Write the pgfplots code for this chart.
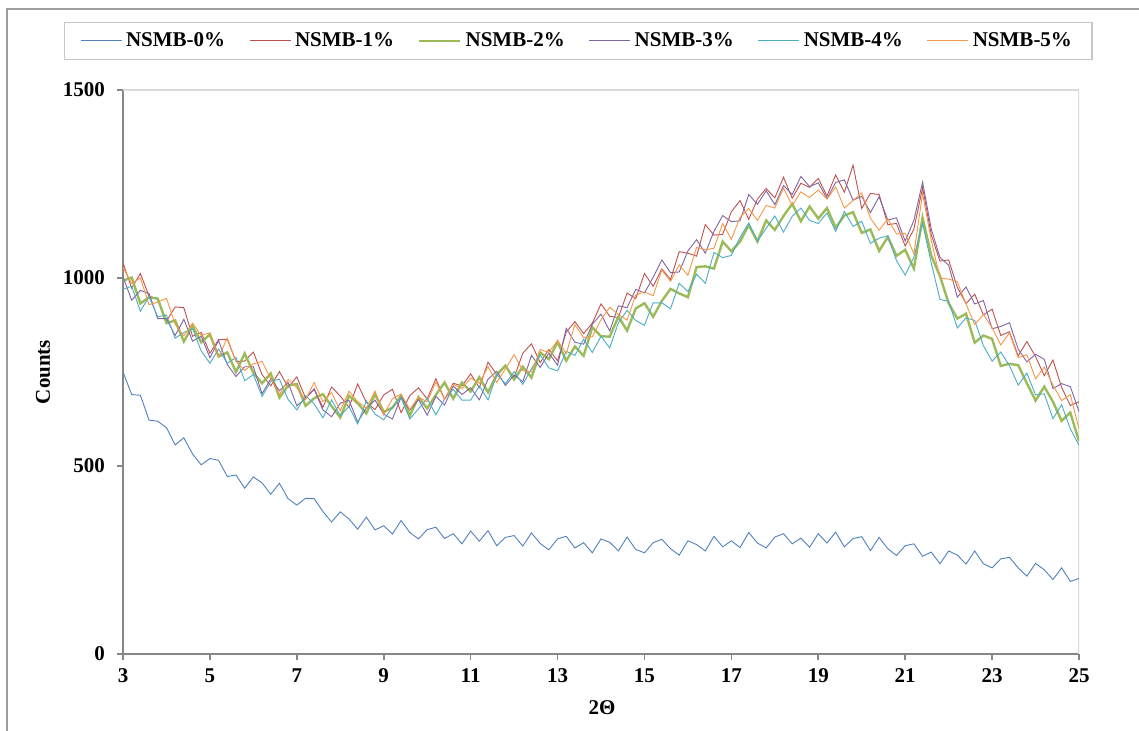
\documentclass[border=0pt]{standalone}
\usepackage{fontspec}
\setmainfont{Liberation Serif}
\usepackage{pgfplots}
\usepackage{pgfplotstable}
\pgfplotsset{compat=1.18}

\definecolor{s0}{HTML}{4F81BD}
\definecolor{s1}{HTML}{C0504D}
\definecolor{s2}{HTML}{9BBB59}
\definecolor{s3}{HTML}{8064A2}
\definecolor{s4}{HTML}{4BACC6}
\definecolor{s5}{HTML}{F79646}
\definecolor{axisgray}{HTML}{868686}
\definecolor{boxgray}{HTML}{D9D9D9}
\definecolor{leggray}{HTML}{C6C6C6}
\definecolor{framegray}{HTML}{9E9E9E}

% 2theta, NSMB-0% ... NSMB-5%
\pgfplotstableread{
x    n0  n1   n2   n3   n4   n5
3.0  750 1040 993  1003 970  1029
3.2  690 973  1001 941  978  985
3.4  688 1012 932  967  912  1000
3.6  622 951  949  959  950  929
3.8  619 945  945  892  897  936
4.0  602 885  880  892  901  946
4.2  556 923  887  847  840  877
4.4  575 921  831  890  855  846
4.6  532 845  872  832  865  880
4.8  503 855  829  845  806  847
5.0  520 800  850  788  773  854
5.2  515 836  791  834  811  790
5.4  472 837  802  770  773  840
5.6  476 778  750  738  789  778
5.8  441 779  799  764  727  754
6.0  471 803  748  764  743  772
6.2  455 743  720  692  685  778
6.4  425 713  746  732  725  732
6.6  454 751  682  700  731  690
6.8  413 709  714  722  677  730
7.0  396 737  718  660  649  708
7.2  414 681  660  680  687  676
7.4  413 705  680  704  665  722
7.6  379 656  691  649  628  671
7.8  351 710  659  631  676  695
8.0  378 686  629  667  634  647
8.2  359 656  687  675  658  699
8.4  332 718  667  617  612  671
8.6  364 669  640  654  673  654
8.8  330 650  691  675  638  699
9.0  341 689  644  638  623  636
9.2  319 704  655  625  656  679
9.4  355 642  687  683  682  691
9.6  323 687  634  648  625  650
9.8  306 708  683  677  652  683
10.0 331 678  653  635  680  671
10.2 337 732  689  685  636  723
10.4 307 677  722  662  679  678
10.6 320 720  679  713  704  717
10.8 293 713  722  690  675  706
11.0 327 745  698  708  675  734
11.2 300 708  736  676  713  720
11.4 328 776  696  731  676  764
11.6 288 744  742  752  743  722
11.8 310 767  767  714  719  758
12.0 315 735  730  742  751  796
12.2 287 800  764  724  717  754
12.4 322 825  735  794  759  750
12.6 294 775  802  762  795  810
12.8 277 810  784  800  761  802
13.0 306 780  830  768  753  834
13.2 313 856  780  866  805  799
13.4 282 884  818  829  794  876
13.6 296 852  793  824  837  841
13.8 269 880  869  877  802  844
14.0 306 931  845  904  845  889
14.2 297 898  844  859  814  922
14.4 274 895  897  926  881  903
14.6 311 960  860  921  914  888
14.8 278 945  919  970  887  955
15.0 269 1012 933  960  874  963
15.2 296 978  897  1002 934  953
15.4 305 1024 939  1048 934  1021
15.6 280 996  971  1014 918  991
15.8 263 1070 959  1016 986  1035
16.0 301 1066 949  1072 964  1007
16.2 291 1058 1029 1102 1010 1081
16.4 274 1142 1031 1066 986  1075
16.6 313 1114 1025 1124 1068 1079
16.8 285 1116 1097 1166 1054 1145
17.0 301 1176 1071 1150 1060 1103
17.2 283 1206 1097 1152 1108 1161
17.4 323 1156 1141 1222 1146 1185
17.6 295 1210 1097 1196 1098 1153
17.8 282 1238 1153 1232 1132 1193
18.0 311 1213 1128 1195 1165 1186
18.2 320 1268 1165 1246 1122 1239
18.4 293 1212 1197 1222 1164 1193
18.6 308 1252 1151 1270 1186 1229
18.8 284 1241 1190 1243 1153 1214
19.0 320 1265 1158 1253 1145 1234
19.2 295 1218 1186 1211 1173 1210
19.4 324 1274 1134 1254 1124 1242
19.6 285 1228 1166 1261 1177 1186
19.8 307 1300 1175 1207 1137 1206
20.0 312 1185 1120 1217 1151 1226
20.2 275 1225 1129 1174 1092 1159
20.4 310 1222 1072 1216 1106 1127
20.6 280 1142 1109 1154 1112 1157
20.8 262 1145 1059 1160 1046 1117
21.0 288 1085 1075 1098 1008 1119
21.2 293 1130 1025 1153 1055 1064
21.4 260 1240 1160 1255 1145 1225
21.6 271 1115 1060 1130 1040 1100
21.8 240 1045 1005 1055 943  1000
22.0 274 1048 933  1034 938  997
22.2 263 975  892  949  867  990
22.4 239 932  905  976  894  931
22.6 274 957  828  931  887  876
22.8 240 902  847  940  820  903
23.0 229 917  838  865  779  868
23.2 253 847  766  871  803  822
23.4 257 857  772  881  767  854
23.6 229 793  768  811  715  788
23.8 207 831  720  777  747  796
24.0 241 791  674  797  689  732
24.2 224 740  711  784  692  763
24.4 198 782  671  706  626  715
24.6 229 709  620  719  663  674
24.8 193 661  642  711  599  690
25.0 201 671  566  645  555  598
}\xrd

\begin{document}
\begin{tikzpicture}
\begin{axis}[
  at={(0,0)}, anchor=south west,
  scale only axis, width=478pt, height=282pt,
  xmin=3, xmax=25, ymin=0, ymax=1500,
  xtick={3,5,...,25}, ytick={0,500,1000,1500},
  axis lines*=left,
  axis line style={axisgray, line width=1.1pt},
  tick align=outside, major tick length=3pt,
  tick style={axisgray, line width=0.8pt},
  /pgf/number format/assume math mode=true,
  /pgf/number format/1000 sep={},
  ticklabel style={font=\fontsize{10.5}{12}\selectfont\bfseries},
  yticklabel style={xshift=-2.5pt},
  xticklabel style={yshift=-1pt},
  xlabel={2Θ}, ylabel={Counts},
  every axis x label/.style={at={(axis description cs:0.501,-0.0957)}, anchor=center, font=\fontsize{10.5}{12}\selectfont\bfseries},
  every axis y label/.style={at={(axis description cs:-0.0837,0.5)}, anchor=center, rotate=90, font=\fontsize{10.5}{12}\selectfont\bfseries},
  legend columns=6,
  legend image code/.code={\draw[#1] (0pt,0pt) -- (20.5pt,0pt);},
  legend style={at={(axis description cs:0.476,1.087)}, anchor=center,
    draw=leggray, line width=0.6pt, inner xsep=8pt, inner ysep=3pt,
    font=\fontsize{10.5}{12}\selectfont\bfseries,
    /tikz/every even column/.append style={column sep=10pt}},
]
\draw[boxgray, line width=0.6pt] (rel axis cs:0,1) -- (rel axis cs:1,1) -- (rel axis cs:1,0);
\addplot[s0, line width=0.45pt] table[x=x, y=n0]{\xrd};
\addplot[s1, line width=0.45pt] table[x=x, y=n1]{\xrd};
\addplot[s2, line width=1.2pt] table[x=x, y=n2]{\xrd};
\addplot[s3, line width=0.45pt] table[x=x, y=n3]{\xrd};
\addplot[s4, line width=0.45pt] table[x=x, y=n4]{\xrd};
\addplot[s5, line width=0.45pt] table[x=x, y=n5]{\xrd};
\legend{NSMB-0\%, NSMB-1\%, NSMB-2\%, NSMB-3\%, NSMB-4\%, NSMB-5\%}
\end{axis}
\draw[framegray, line width=0.7pt] (-58pt,-60pt) rectangle (530pt,322.5pt);
\pgfresetboundingbox
\useasboundingbox (-61.5pt,-38.5pt) rectangle (508pt,327pt);
\end{tikzpicture}
\end{document}
